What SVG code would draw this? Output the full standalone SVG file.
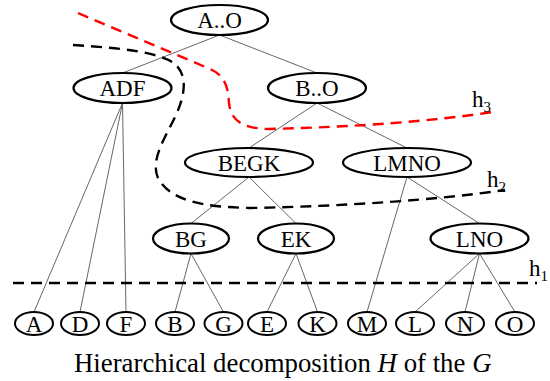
<svg xmlns="http://www.w3.org/2000/svg" width="550" height="381" viewBox="0 0 550 381">
<style>
.n ellipse{fill:#fff;stroke:#000;stroke-width:2.2}
.lf ellipse{fill:#fff;stroke:#000;stroke-width:2}
text{font-family:"Liberation Serif","DejaVu Serif",serif;font-size:23px;fill:#000}
.n text,.lf text{text-anchor:middle}
.e line{stroke:#555;stroke-width:0.9}
.cut{fill:none;stroke-width:2.4;stroke-dasharray:11 7}
.sub{font-size:15px}
text.cap{font-size:26.8px}
.it{font-style:italic}
</style>
<rect width="550" height="381" fill="#fff"/>
<g id="connectors" class="e">
<line x1="219.5" y1="35" x2="122.5" y2="73"/>
<line x1="219.5" y1="35" x2="317" y2="73"/>
<line x1="122.5" y1="103" x2="34" y2="312"/>
<line x1="122.5" y1="103" x2="80" y2="312"/>
<line x1="122.5" y1="103" x2="126" y2="312"/>
<line x1="317" y1="103" x2="249" y2="148"/>
<line x1="317" y1="103" x2="407" y2="148"/>
<line x1="249" y1="177" x2="191" y2="223.5"/>
<line x1="249" y1="177" x2="296" y2="223.5"/>
<line x1="407" y1="177" x2="367" y2="312"/>
<line x1="407" y1="177" x2="479.5" y2="223.5"/>
<line x1="191" y1="253.5" x2="175" y2="312"/>
<line x1="191" y1="253.5" x2="223.5" y2="312"/>
<line x1="296" y1="253.5" x2="267" y2="312"/>
<line x1="296" y1="253.5" x2="317.5" y2="312"/>
<line x1="479.5" y1="253.5" x2="415" y2="312"/>
<line x1="479.5" y1="253.5" x2="465" y2="312"/>
<line x1="479.5" y1="253.5" x2="515" y2="312"/>
</g>
<g id="cuts">
<path class="cut" stroke="#ff0000" d="M78,13 L210,69 C226,76 228,88 229,103 C231,121 242,128 268,129 Q400,126 493,112"/>
<path class="cut" stroke="#000" d="M73,45 C120,48 160,52 175,64 C188,76 185,95 176,115 C165,138 150,160 158,178 C170,200 200,207 250,208 Q400,205 505,190"/>
<path class="cut" stroke="#000" d="M13,283 L537,283"/>
<text x="472" y="107">h<tspan class="sub" dy="5">3</tspan></text>
<text x="487" y="187">h<tspan class="sub" dy="5">2</tspan></text>
<text x="529" y="276">h<tspan class="sub" dy="5">1</tspan></text>
</g>
<g id="AO" class="n"><ellipse cx="219.5" cy="20" rx="48.5" ry="15"/><text x="219.5" y="28">A..O</text></g>
<g id="ADF" class="n"><ellipse cx="122.5" cy="88" rx="49" ry="15"/><text x="122.5" y="96">ADF</text></g>
<g id="BO" class="n"><ellipse cx="317" cy="88" rx="49" ry="15"/><text x="317" y="96">B..O</text></g>
<g id="BEGK" class="n"><ellipse cx="249" cy="162.5" rx="64" ry="14.5"/><text x="249" y="170.5">BEGK</text></g>
<g id="LMNO" class="n"><ellipse cx="407" cy="162.5" rx="64" ry="14.5"/><text x="407" y="170.5">LMNO</text></g>
<g id="BG" class="n"><ellipse cx="191" cy="238.5" rx="38" ry="15"/><text x="191" y="246.5">BG</text></g>
<g id="EK" class="n"><ellipse cx="296" cy="238.5" rx="38" ry="15"/><text x="296" y="246.5">EK</text></g>
<g id="LNO" class="n"><ellipse cx="479.5" cy="238.5" rx="49" ry="15"/><text x="479.5" y="246.5">LNO</text></g>
<g id="A" class="lf"><ellipse cx="34" cy="323.5" rx="19" ry="11.5"/><text x="34" y="331.5">A</text></g>
<g id="D" class="lf"><ellipse cx="80" cy="323.5" rx="19" ry="11.5"/><text x="80" y="331.5">D</text></g>
<g id="F" class="lf"><ellipse cx="126" cy="323.5" rx="19" ry="11.5"/><text x="126" y="331.5">F</text></g>
<g id="B" class="lf"><ellipse cx="175" cy="323.5" rx="19" ry="11.5"/><text x="175" y="331.5">B</text></g>
<g id="G" class="lf"><ellipse cx="223.5" cy="323.5" rx="19" ry="11.5"/><text x="223.5" y="331.5">G</text></g>
<g id="E" class="lf"><ellipse cx="267" cy="323.5" rx="19" ry="11.5"/><text x="267" y="331.5">E</text></g>
<g id="K" class="lf"><ellipse cx="317.5" cy="323.5" rx="19" ry="11.5"/><text x="317.5" y="331.5">K</text></g>
<g id="M" class="lf"><ellipse cx="367" cy="323.5" rx="19" ry="11.5"/><text x="367" y="331.5">M</text></g>
<g id="L" class="lf"><ellipse cx="415" cy="323.5" rx="19" ry="11.5"/><text x="415" y="331.5">L</text></g>
<g id="N" class="lf"><ellipse cx="465" cy="323.5" rx="19" ry="11.5"/><text x="465" y="331.5">N</text></g>
<g id="O" class="lf"><ellipse cx="515" cy="323.5" rx="19" ry="11.5"/><text x="515" y="331.5">O</text></g>
<text id="caption" class="cap" x="74" y="372">Hierarchical decomposition <tspan class="it">H</tspan> of the <tspan class="it">G</tspan></text>
</svg>
